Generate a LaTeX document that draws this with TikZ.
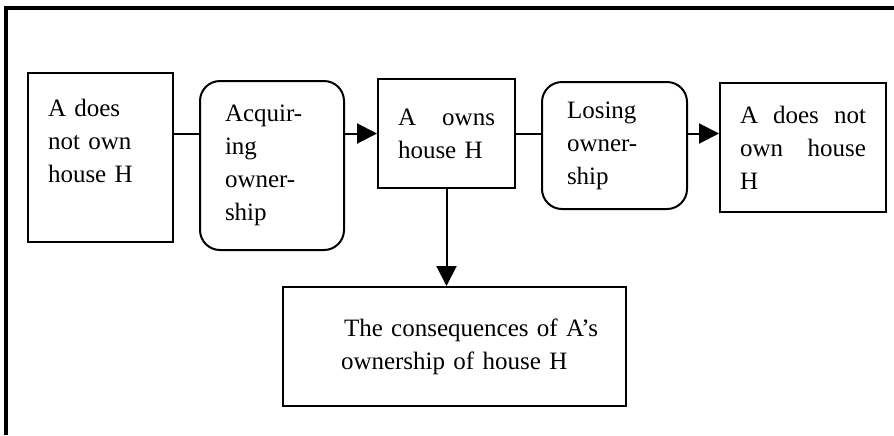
\documentclass[tikz,border=0pt]{standalone}
\usepackage{fontspec}
\setmainfont{Liberation Serif}
\usetikzlibrary{arrows.meta, positioning, calc}

\begin{document}
\begin{tikzpicture}[
        x=0.5pt, y=-0.5pt,
        font=\fontsize{12.5pt}{16.5pt}\selectfont,
        state/.style={draw, line width=1pt, anchor=north west, align=left, inner xsep=10pt, inner ysep=0pt},
        change/.style={state, rounded corners=10pt, inner xsep=12.5pt},
        link/.style={line width=1pt},
        arr/.style={link, -{Triangle[length=10pt, width=10pt]}}
    ]
        \useasboundingbox (0,0) rectangle (894,435);

        % frame (top and left only)
        \coordinate (frame_tl) at (6,8);
        \coordinate (frame_tr) at (894,8);
        \coordinate (frame_bl) at (6,435);
        \draw[line width=1.7pt] (frame_bl) -- (frame_tl) -- (frame_tr);

        \node[state, text width=52.5pt, minimum height=84.5pt, text depth=50pt] (not_own_a) at (27,72) {A does\\not own\\house H};
        \node[change, text width=47pt, minimum height=84.5pt] (acquire) at (199,80) {Acquir-\\ing\\owner-\\ship};
        \node[state, text width=48.5pt, minimum height=54.5pt] (owns) at (377,78) {A\hfill owns\\house H};
        \node[change, text width=47.5pt, minimum height=63.5pt] (lose) at (541,81) {Losing\\owner-\\ship};
        \node[state, text width=63pt, minimum height=64.5pt] (not_own_b) at (719,82) {A\hfill does\hfill not\\own\hfill house\\H};
        \node[state, text width=151.5pt, minimum height=59.5pt] (consequences) at (282,286)
            {\hspace*{20.5pt}The consequences of A's\\\hspace*{19pt}ownership of house H};

        \draw[link] (not_own_a.east |- owns.west) -- (acquire.west |- owns.west);
        \draw[arr] (acquire.east |- owns.west) -- (owns.west);
        \draw[link] (owns.east) -- (lose.west |- owns.east);
        \draw[arr] (lose.east |- owns.east) -- (not_own_b.west |- owns.east);
        \draw[arr] (owns.south) -- (owns.south |- consequences.north);

    \end{tikzpicture}
\end{document}
